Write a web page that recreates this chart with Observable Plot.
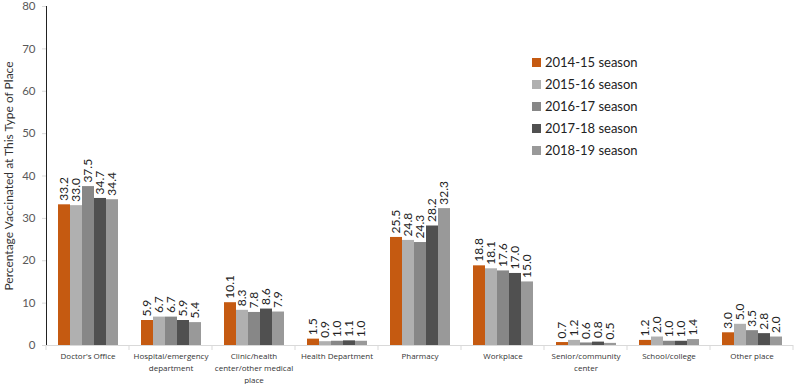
<!DOCTYPE html>
<html>
<head>
<meta charset="utf-8">
<script src="https://cdn.jsdelivr.net/npm/d3@7"></script>
<script src="https://cdn.jsdelivr.net/npm/@observablehq/plot@0.6"></script>
<style>
  html, body { margin: 0; padding: 0; background: #fff; }
  #chart { position: relative; width: 795px; height: 384px; }
  #legend { position: absolute; left: 532px; top: 51px; font-family: Lato, "Open Sans", sans-serif; font-size: 13px; color: #222; }
  #legend .row { display: flex; align-items: center; height: 22px; }
  #legend .sw { width: 9px; height: 9px; margin-right: 4px; }
</style>
</head>
<body>
<div id="chart"></div>
<script>
const categories = [
  "Doctor's Office",
  "Hospital/emergency department",
  "Clinic/health center/other medical place",
  "Health Department",
  "Pharmacy",
  "Workplace",
  "Senior/community center",
  "School/college",
  "Other place"
];
const categoryLabels = [
  "Doctor's Office",
  "Hospital/emergency\ndepartment",
  "Clinic/health\ncenter/other medical\nplace",
  "Health Department",
  "Pharmacy",
  "Workplace",
  "Senior/community\ncenter",
  "School/college",
  "Other place"
];
const seasons = ["2014-15 season", "2015-16 season", "2016-17 season", "2017-18 season", "2018-19 season"];
const season2014_15 = [33.2, 5.9, 10.1, 1.5, 25.5, 18.8, 0.7, 1.2, 3.0];
const season2015_16 = [33.0, 6.7, 8.3, 0.9, 24.8, 18.1, 1.2, 2.0, 5.0];
const season2016_17 = [37.5, 6.7, 7.8, 1.0, 24.3, 17.6, 0.6, 1.0, 3.5];
const season2017_18 = [34.7, 5.9, 8.6, 1.1, 28.2, 17.0, 0.8, 1.0, 2.8];
const season2018_19 = [34.4, 5.4, 7.9, 1.0, 32.3, 15.0, 0.5, 1.4, 2.0];
const seasonColors = ["#C55A11", "#B0B0B0", "#878787", "#505050", "#999999"];
const yTicks = [0, 10, 20, 30, 40, 50, 60, 70, 80];
const yLabel = "Percentage Vaccinated at This Type of Place";

const seriesValues = [season2014_15, season2015_16, season2016_17, season2017_18, season2018_19];
const rows = categories.flatMap((c, i) =>
  seasons.map((s, j) => ({category: c, season: s, value: seriesValues[j][i]}))
);

const chart = Plot.plot({
  width: 795,
  height: 384,
  marginLeft: 44,
  marginRight: 1,
  marginTop: 6,
  marginBottom: 39,
  style: {fontFamily: "Lato, 'Open Sans', sans-serif", fontSize: "11.5px", color: "#222", background: "#fff"},
  fx: {domain: categories, padding: 0, axis: null, label: null},
  x: {domain: seasons, paddingInner: 0, paddingOuter: 0.77, axis: null, label: null},
  y: {domain: [0, 80], ticks: yTicks, tickSize: 4, tickPadding: 7, line: true,
      label: yLabel, labelAnchor: "center", labelOffset: 42, labelArrow: "none"},
  color: {domain: seasons, range: seasonColors},
  marks: [
    Plot.barY(rows, {fx: "category", x: "season", y: "value", fill: "season"}),
    Plot.ruleY([0], {stroke: "#d9d9d9"}),
    Plot.text(rows, {fx: "category", x: "season", y: "value", text: d => d.value.toFixed(1),
      rotate: -90, textAnchor: "start", dy: -4, fontSize: 12, fill: "#222"}),
    Plot.text(categories, {fx: d => d, text: (d, i) => categoryLabels[i], frameAnchor: "bottom",
      lineAnchor: "top", dy: 5, lineHeight: 1.5, fontSize: 8, fontFamily: "'Open Sans', sans-serif", fill: "#333"})
  ]
});

const svg = d3.select(chart);
svg.selectAll('[aria-label^="y-axis"] text').attr("font-size", 11.5).attr("fill", "#595959").style("fill", "#595959");
svg.selectAll('[aria-label^="y-axis"] line, [aria-label^="y-axis"] path').attr("stroke", "#d9d9d9").style("stroke", "#d9d9d9");
svg.selectAll('[aria-label^="y-axis"] text').filter(function() { return this.textContent.indexOf("Percentage") >= 0; })
  .text(yLabel).attr("font-size", 12).attr("fill", "#333").style("fill", "#333");

// category boundary ticks on the x axis, from the fx and y scales
const fxScale = chart.scale("fx");
const yScale = chart.scale("y");
const y0 = yScale.apply(0);
const starts = categories.map(c => fxScale.apply(c));
const bounds = starts.concat([starts[starts.length - 1] + fxScale.bandwidth]);
svg.append("g").attr("aria-label", "category ticks")
  .selectAll("line").data(bounds).join("line")
  .attr("x1", d => d).attr("x2", d => d)
  .attr("y1", y0).attr("y2", y0 + 5)
  .attr("stroke", "#d9d9d9");

const container = document.getElementById("chart");
container.appendChild(chart);

const legend = document.createElement("div");
legend.id = "legend";
seasons.forEach((s, i) => {
  const row = document.createElement("div");
  row.className = "row";
  const sw = document.createElement("div");
  sw.className = "sw";
  sw.style.background = seasonColors[i];
  const label = document.createElement("span");
  label.textContent = s;
  row.appendChild(sw);
  row.appendChild(label);
  legend.appendChild(row);
});
container.appendChild(legend);
</script>
</body>
</html>
